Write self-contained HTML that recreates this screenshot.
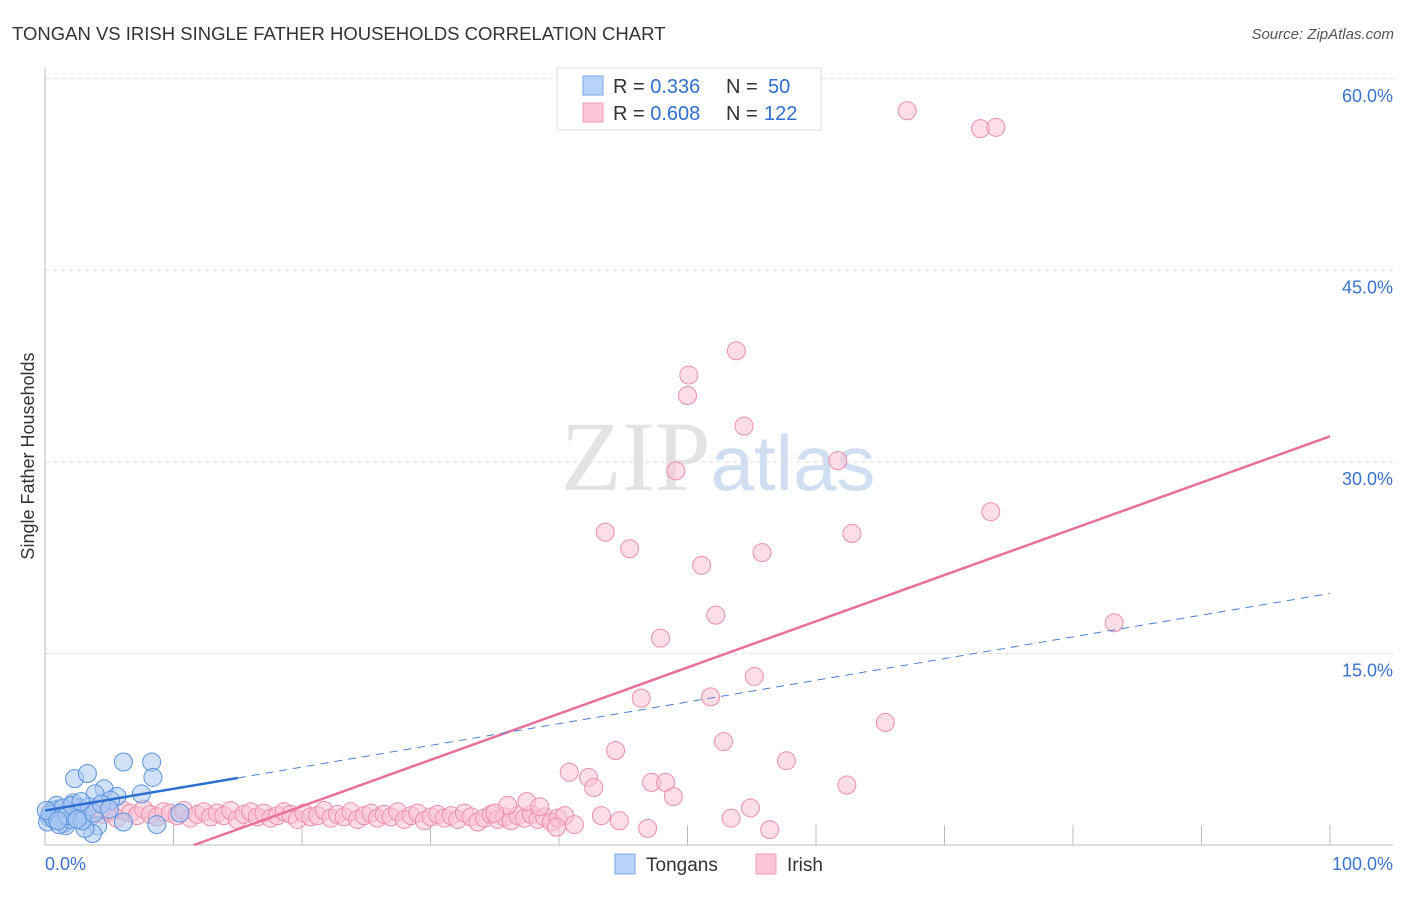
<!DOCTYPE html>
<html><head><meta charset="utf-8"><style>
body{margin:0;background:#fff;font-family:"Liberation Sans",sans-serif}
</style></head><body>
<svg width="1406" height="892" xmlns="http://www.w3.org/2000/svg" id="svg">
<text x="12" y="40" font-size="18.5" fill="#333">TONGAN VS IRISH SINGLE FATHER HOUSEHOLDS CORRELATION CHART</text>
<text x="1394" y="39" font-size="15" fill="#555" text-anchor="end" font-style="italic">Source: ZipAtlas.com</text>
<text x="718" y="490" font-size="100" text-anchor="middle" font-family="Liberation Serif" fill="#ddd" opacity="0.8">ZIP<tspan fill="#c5d6ee" font-family="Liberation Sans" font-size="78">atlas</tspan></text>
<text transform="translate(34,456) rotate(-90)" font-size="18" fill="#333" text-anchor="middle">Single Father Households</text>
<g id="grid"></g><g id="pts"></g><g id="lines"></g>
<g>
<rect x="557" y="68" width="264" height="62" fill="#fff" stroke="#ddd"/>
<rect x="583" y="76" width="20" height="19" fill="#b8d3f5" stroke="#7aaae8"/>
<rect x="583" y="103" width="20" height="19" fill="#fcc6d6" stroke="#f09ab3"/>
<text x="613" y="93" font-size="20" fill="#333">R = <tspan fill="#2f6fd0">0.336</tspan><tspan x="726">N = </tspan><tspan fill="#2f6fd0" x="768">50</tspan></text>
<text x="613" y="120" font-size="20" fill="#333">R = <tspan fill="#2f6fd0">0.608</tspan><tspan x="726">N = </tspan><tspan fill="#2f6fd0" x="764">122</tspan></text>
</g>
<g>
<rect x="615" y="854" width="20" height="20" fill="#b8d3f5" stroke="#7aaae8"/>
<text x="646" y="871" font-size="19" fill="#333">Tongans</text>
<rect x="756" y="854" width="20" height="20" fill="#fcc6d6" stroke="#f09ab3"/>
<text x="787" y="871" font-size="19" fill="#333">Irish</text>
</g>
</svg>
<script>
const yTicks=[15,30,45,60];
const yTickLabels=["15.0%","30.0%","45.0%","60.0%"];
const xTickLabels=["0.0%","100.0%"];
const tonganX=[2.3,3.3,6.1,8.3,8.4,4.6,5.6,7.5,3.9,5.1,6.1,8.7,4.1,3.7,3.1,0.3,0.5,0.8,1.0,1.2,1.5,1.8,2.0,2.4,2.7,3.0,0.2,0.6,0.9,1.3,1.6,1.9,2.2,2.6,2.9,3.4,3.8,4.4,5.0,0.4,0.7,1.1,1.4,1.7,2.1,2.5,0.1,1.0,2.8,10.5];
const tonganY=[5.2,5.6,6.5,6.5,5.3,4.4,3.8,4.0,4.0,3.5,1.8,1.6,1.5,0.9,1.3,2.2,2.5,2.0,2.8,2.3,1.7,2.6,3.0,2.1,2.9,2.4,1.8,2.7,3.1,2.2,1.5,2.0,3.3,2.6,1.9,3.0,2.5,3.2,2.8,2.4,2.0,1.6,2.9,2.3,3.1,2.0,2.7,1.9,3.4,2.5];
const irishOutX=[67.1,72.8,74.0,53.8,50.1,50.0,54.4,61.7,49.1,73.6,43.6,62.8,45.5,55.8,51.1,52.2,83.2,47.9,55.2,46.4,51.8,65.4,52.8,44.4,57.7,40.8,42.3,42.7,47.2,48.3,48.9,62.4,54.9,53.4,56.4,46.9,44.7,43.3,36.0,37.5,35.0,38.5,39.8,41.2];
const irishOutY=[57.5,56.1,56.2,38.7,36.8,35.2,32.8,30.1,29.3,26.1,24.5,24.4,23.2,22.9,21.9,18.0,17.4,16.2,13.2,11.5,11.6,9.6,8.1,7.4,6.6,5.7,5.3,4.5,4.9,4.9,3.8,4.7,2.9,2.1,1.2,1.3,1.9,2.3,3.1,3.4,2.5,3.0,1.4,1.6];
const irishBaseX=[];const irishBaseY=[2.6,2.4,2.8,2.3,2.7,2.5,2.2,2.9,2.4,2.6,2.1,2.7,2.5,2.3,2.8,2.4,2.2,2.6,2.5,2.3,2.7,2.1,2.4,2.6,2.2,2.5,2.3,2.7,2.0,2.4,2.6,2.2,2.5,2.1,2.3,2.6,2.4,2.0,2.5,2.2,2.3,2.7,2.1,2.4,2.2,2.6,2.0,2.3,2.5,2.1,2.4,2.2,2.6,2.0,2.3,2.5,1.9,2.2,2.4,2.1,2.3,2.0,2.5,2.2,1.8,2.1,2.4,2.0,2.2,1.9,2.3,2.1,2.4,2.0,2.2,1.8,2.1,2.3];
for(let i=0;i<irishBaseY.length;i++)irishBaseX.push(+(0.4+i*0.52).toFixed(2));
const tonganTrend=[2.7,19.7];const irishTrend=[-4.2,32.0];
const X=v=>45+v*12.85, Y=v=>845-v*12.77;
const NS="http://www.w3.org/2000/svg";
function mk(p,t,a){const e=document.createElementNS(NS,t);for(const k in a)e.setAttribute(k,a[k]);document.getElementById(p).appendChild(e);return e;}
yTicks.forEach((t,i)=>{
 const l=mk('grid','line',{x1:45,x2:1393,y1:Y(t),y2:Y(t),stroke:'#ddd','stroke-dasharray':'4 4'});
 
 
 const tx=mk('grid','text',{x:1393,y:Y(t)+23,'font-size':18,fill:'#3a72d0','text-anchor':'end'});tx.textContent=yTickLabels[i];
 
 
});
const a1=mk('grid','line',{x1:45,x2:45,y1:68,y2:845,stroke:'#bbb'});


const a2=mk('grid','line',{x1:45,x2:1393,y1:845,y2:845,stroke:'#bbb'});


for(let i=1;i<=10;i++){const t=mk('grid','line',{x1:X(i*10),x2:X(i*10),y1:825,y2:845,stroke:'#bbb'});
 
 }
const xl0=mk('grid','text',{x:45,y:870,'font-size':18,fill:'#3a72d0'});xl0.textContent=xTickLabels[0];


const xl1=mk('grid','text',{x:1393,y:870,'font-size':18,fill:'#3a72d0','text-anchor':'end'});xl1.textContent=xTickLabels[1];


function pts(xs,ys,f,s,n){xs.forEach((x,i)=>{const c=mk('pts','circle',{cx:X(x),cy:Y(ys[i]),r:9,fill:f,'fill-opacity':0.55,stroke:s,'stroke-width':1});
 
 });}
pts(irishBaseX,irishBaseY,'#fbc3d3','#ec8eab','irish-point');
pts(irishOutX,irishOutY,'#fbc3d3','#ec8eab','irish-point');
pts(tonganX,tonganY,'#a9c9f2','#5b93e0','tongan-point');
const ix0=(0-irishTrend[0])/(irishTrend[1]-irishTrend[0])*100;
const l1=mk('lines','line',{x1:X(ix0),y1:Y(0),x2:X(100),y2:Y(irishTrend[1]),stroke:'#e8709a','stroke-width':2.5});


const ty=x=>tonganTrend[0]+(tonganTrend[1]-tonganTrend[0])*x/100;
const l2=mk('lines','line',{x1:X(0),y1:Y(ty(0)),x2:X(15),y2:Y(ty(15)),stroke:'#2f6fd0','stroke-width':2.5});


const l3=mk('lines','line',{x1:X(15),y1:Y(ty(15)),x2:X(100),y2:Y(ty(100)),stroke:'#4a80d6','stroke-width':1,'stroke-dasharray':'8 6'});


</script>
</body></html>
